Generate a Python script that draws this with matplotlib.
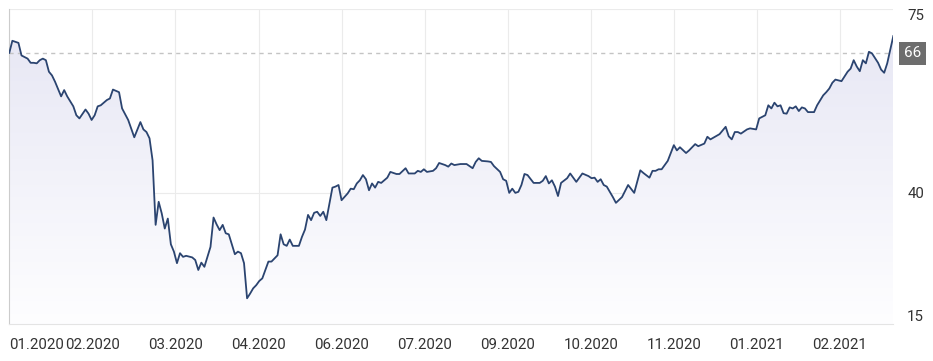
import matplotlib
matplotlib.use('Agg')
import matplotlib.pyplot as plt
import matplotlib.transforms as mtransforms
import numpy as np

# trading-day index and price
day = [0, 1, 2, 3, 4, 6, 7, 8, 9, 10,
       11, 12, 13, 14, 15, 17, 18, 19, 21, 22,
       23, 25, 26, 27, 28, 29, 30, 32, 33, 34,
       36, 37, 39, 41, 43, 44, 45, 46, 47, 48,
       49, 50, 51, 52, 53, 54, 55, 56, 57, 58,
       60, 61, 62, 63, 64, 66, 67, 68, 69, 70,
       71, 72, 74, 75, 76, 77, 78, 79, 80, 81,
       82, 83, 85, 86, 88, 89, 90, 91, 92, 93,
       95, 96, 97, 98, 99, 100, 101, 102, 103, 104,
       106, 107, 108, 109, 111, 112, 113, 114, 115, 116,
       117, 118, 119, 120, 121, 122, 124, 125, 127, 128,
       130, 131, 133, 134, 135, 136, 137, 139, 140, 141,
       143, 144, 145, 146, 148, 150, 152, 153, 154, 155,
       157, 158, 159, 161, 162, 163, 164, 165, 166, 167,
       168, 169, 170, 172, 174, 175, 176, 177, 178, 179,
       180, 181, 183, 184, 186, 188, 190, 191, 192, 193,
       194, 195, 196, 198, 199, 201, 203, 205, 207, 208,
       210, 211, 212, 213, 214, 216, 218, 219, 220, 222,
       223, 225, 226, 228, 229, 230, 233, 235, 236, 237,
       238, 239, 240, 242, 243, 245, 246, 248, 249, 250,
       251, 252, 253, 254, 255, 256, 257, 258, 259, 260,
       261, 262, 264, 265, 267, 268, 269, 270, 271, 273,
       275, 276, 277, 278, 279, 280, 281, 282, 283, 285,
       286, 287, 288, 290]
price = [66.7, 69.0, 68.8, 68.6, 66.2, 65.6, 64.8, 64.8, 64.7, 65.3,
         65.6, 65.3, 63.1, 62.4, 61.2, 58.4, 59.6, 58.4, 56.5, 54.8,
         54.2, 55.9, 55.1, 53.9, 54.8, 56.5, 56.7, 57.7, 58.0, 59.7,
         59.2, 56.1, 53.9, 50.6, 53.5, 52.1, 51.6, 50.4, 46.2, 33.9,
         38.3, 36.1, 33.2, 35.1, 30.2, 28.8, 26.6, 28.5, 27.8, 28.0,
         27.7, 27.2, 25.3, 26.7, 25.9, 29.7, 35.3, 34.0, 32.9, 33.9,
         32.3, 32.1, 28.3, 28.8, 28.5, 26.6, 19.9, 20.8, 21.8, 22.4,
         23.2, 23.7, 26.9, 26.9, 28.1, 32.1, 30.2, 29.9, 31.1, 29.9,
         29.9, 31.6, 33.0, 35.8, 34.8, 36.2, 36.4, 35.6, 36.4, 34.8,
         41.0, 41.2, 41.5, 38.6, 39.9, 40.8, 40.7, 41.8, 42.4, 43.4,
         42.6, 40.5, 41.8, 41.0, 42.1, 41.9, 42.9, 44.0, 43.6, 43.6,
         44.7, 43.7, 43.7, 44.2, 44.0, 44.5, 44.0, 44.2, 44.7, 45.7,
         45.3, 45.0, 45.6, 45.3, 45.5, 45.5, 44.7, 45.9, 46.6, 46.1,
         46.0, 45.9, 45.1, 44.0, 42.6, 42.3, 40.0, 40.8, 40.0, 40.2,
         41.5, 43.6, 43.4, 41.9, 41.9, 42.3, 43.2, 41.8, 42.4, 41.2,
         39.4, 41.9, 42.8, 43.7, 42.1, 43.7, 43.2, 42.8, 42.9, 42.1,
         42.6, 41.5, 41.2, 39.2, 38.1, 39.2, 41.5, 40.0, 44.3, 43.8,
         42.9, 44.2, 44.2, 44.5, 44.5, 46.1, 49.1, 48.1, 48.7, 47.6,
         48.1, 49.3, 48.9, 49.4, 50.7, 50.2, 51.2, 52.6, 50.8, 50.2,
         51.6, 51.6, 51.3, 52.1, 52.3, 52.1, 54.2, 54.8, 56.7, 56.1,
         57.2, 56.5, 56.7, 55.2, 55.1, 56.3, 56.1, 56.5, 55.6, 56.3,
         56.1, 55.4, 55.4, 56.7, 58.6, 59.2, 59.9, 61.0, 61.6, 61.3,
         63.1, 63.7, 65.3, 64.1, 63.2, 65.3, 64.7, 66.9, 66.6, 64.8,
         63.5, 62.9, 64.7, 69.9]

month_labels = ['01.2020', '02.2020', '03.2020', '04.2020', '06.2020', '07.2020',
                '09.2020', '10.2020', '11.2020', '01.2021', '02.2021']
y_ticks = [15, 40, 75]
ref_value = 66.6
ref_label = '66'

day = np.array(day, dtype=float)
price = np.array(price)

plt.rcParams['font.family'] = ['Roboto', 'DejaVu Sans']

fig = plt.figure(figsize=(9.33, 3.61), dpi=100)
ax = fig.add_axes([0.00997, 0.1025, 0.9475, 0.8717])
ax.set_xlim(0, 290)
ax.set_ylim(15, 75)

# gradient fill below the line
grad = np.linspace(0, 1, 256).reshape(-1, 1)
top = np.array([0.9, 0.9, 0.955])
bot = np.array([0.995, 0.995, 1.0])
img = top[None, None, :] * (1 - grad[:, :, None]) + bot[None, None, :] * grad[:, :, None]
poly = ax.fill_between(day, price, 15, color='none', lw=0)
im = ax.imshow(img, extent=[0, 290, 15, 75], aspect='auto', origin='upper', zorder=1)
im.set_clip_path(poly.get_paths()[0], transform=ax.transData)

ax.plot(day, price, color='#2b4470', lw=1.3, zorder=3)
ax.axhline(ref_value, color='#c4c4c4', lw=1, ls=(0, (3, 3)), zorder=2)

xticks = np.arange(len(month_labels)) * 27.25
ax.set_xticks(xticks)
ax.set_xticklabels(month_labels)
ax.set_yticks(y_ticks)
ax.yaxis.tick_right()
ax.tick_params(axis='both', length=0, labelsize=10.8, colors='#333333')
ax.tick_params(axis='x', pad=10)
ax.tick_params(axis='y', pad=10)
ax.grid(True, color='#ebebeb', lw=0.8, zorder=0)
ax.set_axisbelow(True)

for s in ['top', 'right']:
    ax.spines[s].set_visible(False)
ax.spines['left'].set_color('#cccccc')
ax.spines['bottom'].set_color('#e4e4e4')

xl = ax.get_xticklabels()
xl[0].set_ha('left')
yl = ax.get_yticklabels()
yl[0].set_va('bottom')
yl[-1].set_va('top')

trans = mtransforms.blended_transform_factory(ax.transAxes, ax.transData)
ax.text(1.0217, ref_value, ref_label, transform=trans, ha='center', va='center',
        color='white', fontsize=11,
        bbox=dict(boxstyle='square,pad=0.3', fc='#6d6d6d', ec='none'))

fig.savefig('out.png', dpi=100, facecolor='white')
